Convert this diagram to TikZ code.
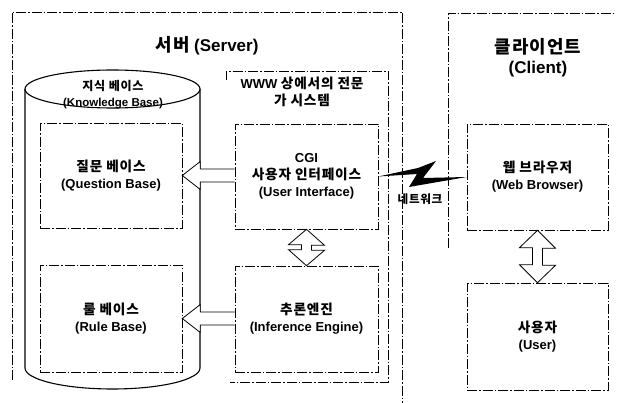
\documentclass[tikz,border=0pt]{standalone}
\usepackage{fontspec}
\setmainfont{Liberation Sans}
\newfontfamily\kr{Noto Sans CJK KR}[Scale=1.05, LetterSpace=6]
\usetikzlibrary{calc}

\tikzset{
  dashbox/.style={draw, dash pattern=on 10pt off 2pt on 1.5pt off 2pt, line width=0.6pt},
  unitbox/.style={dashbox, minimum width=142pt, minimum height=105pt, align=center,
    font=\bfseries\fontsize{13}{17}\selectfont},
  txt/.style={align=center, font=\bfseries\fontsize{13}{17}\selectfont},
  title/.style={align=center, font=\bfseries\fontsize{17}{20}\selectfont},
  hollow/.style={draw, fill=white, line width=0.8pt},
}

\begin{document}
\begin{tikzpicture}[x=1pt, y=-1pt]
\useasboundingbox (0,0) rectangle (618,403);
% frames
\draw[dashbox] (12,380) -- (12,12) -- (402,12) -- (402,403);
\draw[dashbox] (448,248) -- (448,13) -- (615,13);
\draw[dashbox] (226,80) -- (226,71) -- (388,71) -- (388,382) -- (230,382);
\node[title] (server) at (207,46) {{\kr 서버} (Server)};
\node[title] (client) at (538,58) {{\kr 클라이언트}\\(Client)};
\node[txt] (www) at (302,92) {WWW {\kr 상에서의 전문}\\{\kr 가 시스템}};

% knowledge base
\draw[line width=1.1pt] (112.5,89) ellipse [x radius=87.5, y radius=19];
\draw[line width=1.1pt] (25,89) -- (25,368) arc[start angle=180, end angle=0, x radius=87.5, y radius=21] -- (200,89);
\node[align=center, font=\bfseries\fontsize{11.5}{16}\selectfont] (kb) at (113,95) {{\kr 지식 베이스}\\(Knowledge Base)};

\node[unitbox] (qb) at (111,175.5) {{\kr 질문 베이스}\\(Question Base)};
\node[unitbox, minimum height=107pt] (rb) at (111,318.5) {{\kr 룰 베이스}\\(Rule Base)};
\node[unitbox, minimum width=143pt] (cgi) at (306.5,176.5) {CGI\\{\kr 사용자 인터페이스}\\(User Interface)};
\node[unitbox, minimum width=143pt, minimum height=106pt] (inf) at (306.5,319) {{\kr 추론엔진}\\(Inference Engine)};
\node[unitbox, minimum width=141pt, minimum height=106pt] (web) at (537.5,177) {{\kr 웹 브라우저}\\(Web Browser)};
\node[unitbox, minimum width=141pt, minimum height=107pt] (user) at (537.5,336.5) {{\kr 사용자}\\(User)};

% hollow arrows
\foreach \a/\b in {qb/cgi, rb/inf}
  \draw[hollow] ($(\a.east -| \b.west)+(0,-6.5)$) -- ($(\a.east)+(18,-6.5)$) -- ++(0,-7.5)
    -- (\a.east) -- ++(18,14) -- ++(0,-7.5) -- ($(\a.east -| \b.west)+(0,6.5)$);
\foreach \a/\b/\h/\s in {cgi/inf/16/5, web/user/18/17}
  \draw[hollow] (\a.south) -- ++(18,\h) -- ++(-13,0) -- ++(0,\s) -- ++(13,0) -- (\b.north)
    -- ++(-18,-\h) -- ++(13,0) -- ++(0,-\s) -- ++(-13,0) -- cycle;

% network
\fill (cgi.east) -- (418,168) -- (436,161) -- (423,178) -- (web.west) -- (409,187) -- (417,174) -- cycle;
\node[font=\bfseries\fontsize{11}{12}\selectfont] (net) at (420,199) {\kr 네트워크};
\end{tikzpicture}
\end{document}
